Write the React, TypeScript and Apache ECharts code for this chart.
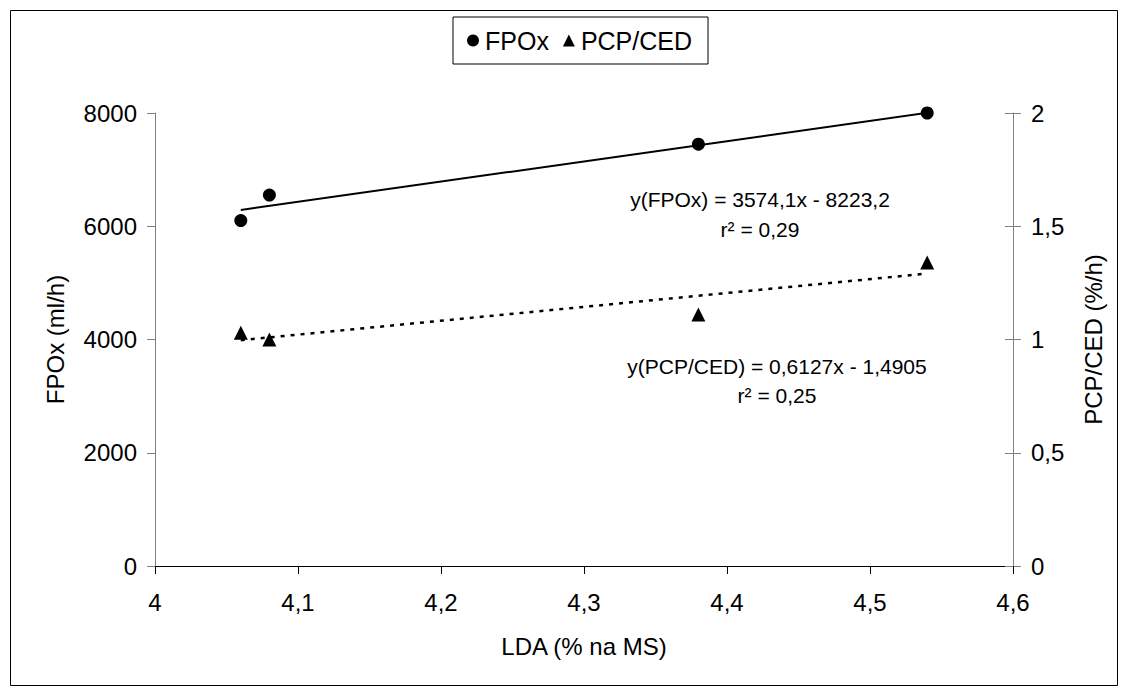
import React, { useEffect, useRef } from "react";
import * as echarts from "echarts";

// Data
const ldaValues = [4.06, 4.08, 4.38, 4.54];
const fpoxValues = [6100, 6550, 7450, 8000];
const pcpCedValues = [1.03, 1.0, 1.11, 1.34];

// Regression coefficients printed on the chart
const fpoxSlope = 3574.1;
const fpoxIntercept = -8223.2;
const pcpSlope = 0.6127;
const pcpIntercept = -1.4905;

const fpoxEquation = "y(FPOx) = 3574,1x - 8223,2";
const fpoxR2 = "r² = 0,29";
const pcpEquation = "y(PCP/CED) = 0,6127x - 1,4905";
const pcpR2 = "r² = 0,25";

const FONT = "'Liberation Sans', Arial, sans-serif";
const comma = (v: number) => String(Math.round(v * 1000) / 1000).replace(".", ",");

export default function App() {
  const ref = useRef<HTMLDivElement>(null);
  useEffect(() => {
    document.body.style.margin = "0";
    const chart = echarts.init(ref.current!, null, { renderer: "svg" });
    const xMin = Math.min(...ldaValues);
    const xMax = Math.max(...ldaValues);
    const fpoxTrend = [
      [xMin, fpoxSlope * xMin + fpoxIntercept],
      [xMax, fpoxSlope * xMax + fpoxIntercept],
    ];
    const pcpTrend = [
      [xMin, pcpSlope * xMin + pcpIntercept],
      [xMax, pcpSlope * xMax + pcpIntercept],
    ];
    const eqStyle = (text: string) => ({
      text,
      fontFamily: FONT,
      fontSize: 21,
      fill: "#000",
      align: "center",
      verticalAlign: "middle",
    });
    chart.setOption({
      animation: false,
      backgroundColor: "#fff",
      textStyle: { fontFamily: FONT, color: "#000" },
      grid: { left: 155, right: 115, top: 113, bottom: 131 },
      legend: {
        left: 453,
        top: 17,
        orient: "horizontal",
        borderColor: "#000",
        borderWidth: 1,
        padding: [11, 16, 11, 14],
        itemGap: 14,
        itemWidth: 12,
        itemHeight: 12,
        itemStyle: { opacity: 1, color: "#000" },
        textStyle: { fontFamily: FONT, fontSize: 25, color: "#000", padding: [0, 0, 0, 1] },
        data: [
          { name: "FPOx", icon: "circle" },
          { name: "PCP/CED", icon: "triangle" },
        ],
      },
      xAxis: {
        type: "value",
        min: 4,
        max: 4.6,
        interval: 0.1,
        name: "LDA (% na MS)",
        nameLocation: "middle",
        nameGap: 68,
        nameTextStyle: { fontFamily: FONT, fontSize: 24, color: "#000" },
        axisLine: { onZero: false, lineStyle: { color: "#000", width: 1 } },
        axisTick: { length: 8, lineStyle: { color: "#000" } },
        axisLabel: { fontFamily: FONT, fontSize: 24, color: "#000", margin: 24, formatter: comma },
        splitLine: { show: false },
      },
      yAxis: [
        {
          type: "value",
          position: "left",
          min: 0,
          max: 8000,
          interval: 2000,
          name: "FPOx (ml/h)",
          nameLocation: "middle",
          nameGap: 88,
          nameTextStyle: { fontFamily: FONT, fontSize: 24, color: "#000" },
          axisLine: { show: true, lineStyle: { color: "#808080", width: 1 } },
          axisTick: { show: true, length: 8, lineStyle: { color: "#808080" } },
          axisLabel: { fontFamily: FONT, fontSize: 24, color: "#000", margin: 18, formatter: (v: number) => String(v) },
          splitLine: { show: false },
        },
        {
          type: "value",
          position: "right",
          min: 0,
          max: 2,
          interval: 0.5,
          name: "PCP/CED (%/h)",
          nameLocation: "middle",
          nameGap: 68,
          nameTextStyle: { fontFamily: FONT, fontSize: 24, color: "#000" },
          axisLine: { show: true, lineStyle: { color: "#808080", width: 1 } },
          axisTick: { show: true, length: 8, lineStyle: { color: "#808080" } },
          axisLabel: { fontFamily: FONT, fontSize: 24, color: "#000", margin: 18, formatter: comma },
          splitLine: { show: false },
        },
        {
          type: "value",
          position: "right",
          min: 0,
          max: 2,
          interval: 0.5,
          axisLine: { show: false },
          axisTick: { show: true, inside: true, length: 8, lineStyle: { color: "#808080" } },
          axisLabel: { show: false },
          splitLine: { show: false },
        },
      ],
      series: [
        {
          name: "FPOx trend",
          type: "line",
          yAxisIndex: 0,
          data: fpoxTrend,
          symbol: "none",
          lineStyle: { color: "#000", width: 2 },
          silent: true,
          z: 1,
        },
        {
          name: "PCP/CED trend",
          type: "line",
          yAxisIndex: 1,
          data: pcpTrend,
          symbol: "none",
          lineStyle: { color: "#000", width: 2.5, type: [4, 6] },
          silent: true,
          z: 1,
        },
        {
          name: "FPOx",
          type: "scatter",
          yAxisIndex: 0,
          symbol: "circle",
          symbolSize: 13,
          itemStyle: { color: "#000", opacity: 1 },
          data: ldaValues.map((x, i) => [x, fpoxValues[i]]),
          z: 3,
        },
        {
          name: "PCP/CED",
          type: "scatter",
          yAxisIndex: 1,
          symbol: "triangle",
          symbolSize: 14,
          itemStyle: { color: "#000", opacity: 1 },
          data: ldaValues.map((x, i) => [x, pcpCedValues[i]]),
          z: 3,
        },
      ],
      graphic: [
        {
          type: "rect",
          shape: { x: 10.5, y: 10.5, width: 1107, height: 675 },
          style: { fill: "none", stroke: "#000", lineWidth: 1 },
          silent: true,
          z: -1,
        },
        { type: "text", x: 760, y: 199, style: eqStyle(fpoxEquation) },
        { type: "text", x: 760, y: 229, style: eqStyle(fpoxR2) },
        { type: "text", x: 777, y: 366, style: eqStyle(pcpEquation) },
        { type: "text", x: 777, y: 395, style: eqStyle(pcpR2) },
      ],
    });
    return () => chart.dispose();
  }, []);
  return <div ref={ref} style={{ width: 1128, height: 697 }} />;
}
